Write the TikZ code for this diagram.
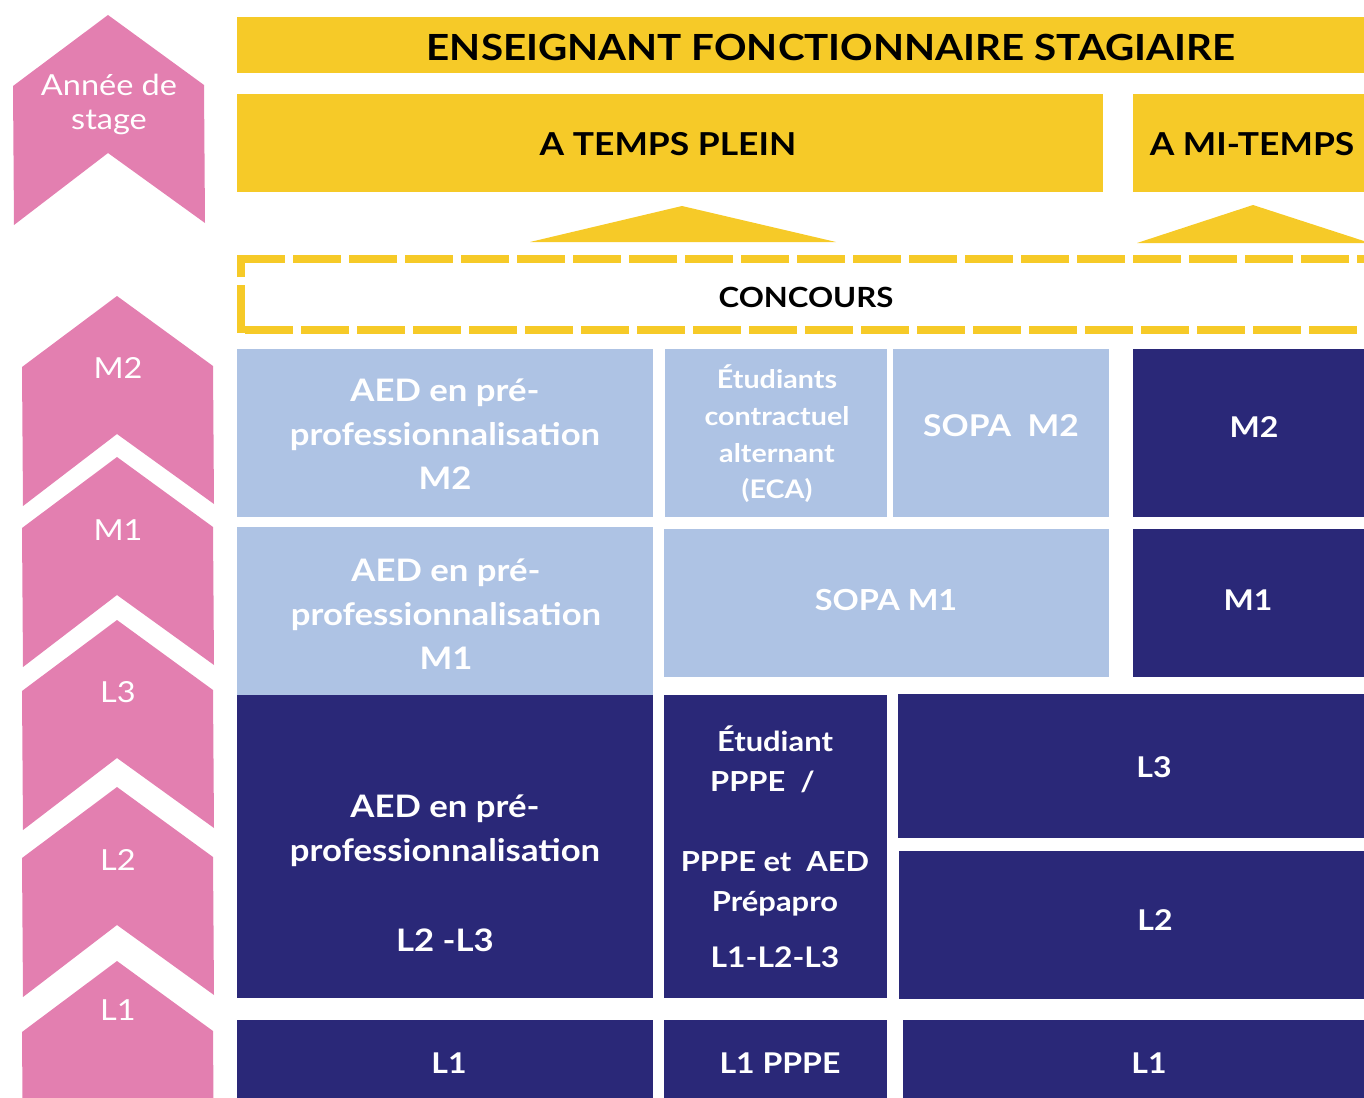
\documentclass[tikz,border=0pt]{standalone}
\usepackage{fontspec}
\setmainfont{Lato}[FakeStretch=1.12]
\definecolor{jaune}{RGB}{246,202,40}
\definecolor{bleuclair}{RGB}{174,195,228}
\definecolor{marine}{RGB}{42,40,120}
\definecolor{rose}{RGB}{227,127,176}
\begin{document}
\begin{tikzpicture}[x=0.5pt, y=-0.5pt,
    jbox/.style = {fill=jaune},
    cbox/.style = {fill=bleuclair},
    mbox/.style = {fill=marine},
    titre/.style = {font=\bfseries\fontsize{18}{22}\selectfont},
    soustitre/.style = {font=\bfseries\fontsize{15.8}{22}\selectfont},
    lab/.style = {text=white, font=\fontsize{14.5}{17}\selectfont, align=center},
    case/.style = {text=white, font=\bfseries\fontsize{15.5}{22}\selectfont, align=center},
    court/.style = {case, font=\bfseries\fontsize{14.3}{20}\selectfont}]
    \useasboundingbox (0,0) rectangle (1364,1097);
    \clip (0,0) rectangle (1364,1097);
    % chevrons
    \foreach \cx/\a/\n/\ty/\t in {108/15/stage/104/{Année de\\stage}, 117/296/m2/368/M2,
        117/457/m1/530/M1, 117/620/l3/692/L3, 117/787/l2/860/L2, 117/961/l1/1010/L1} {
        \fill[rose] (\cx,\a) -- (\cx+96,\a+70) -- (\cx+97,\a+208) -- (\cx,\a+138)
            -- (\cx-94,\a+210) -- (\cx-95,\a+71) -- cycle;
        \node[lab] (an-\n) at (\cx+1,\ty) {\t};
    }
    % yellow part
    \path[jbox] (237,17) rectangle (1364,73);
    \path[jbox] (237,94) rectangle (1103,192);
    \path[jbox] (1133,94) rectangle (1364,192);
    \node[titre] (titre) at (831,47) {ENSEIGNANT FONCTIONNAIRE STAGIAIRE};
    \node[soustitre] (plein) at (668,144) {A TEMPS PLEIN};
    \node[soustitre] (mi) at (1252,144) {A MI-TEMPS};
    \fill[jaune] (530,242) -- (682,206) -- (836,242) -- cycle;
    \fill[jaune] (1137,243) -- (1253,205) -- (1370,243) -- cycle;
    \draw[jaune, line width=4pt, dash pattern=on 24pt off 4pt] (237,258.5) -- (1400,258.5);
    \draw[jaune, line width=4pt, dash pattern=on 24pt off 4pt] (245,329.5) -- (1400,329.5);
    \draw[jaune, line width=4pt, dash pattern=on 24pt off 4pt] (241,333) -- (241,255);
    \node[font=\bfseries\fontsize{13.9}{17}\selectfont] (concours) at (806,297) {CONCOURS};
    % boxes
    \path[cbox] (237,349) rectangle (653,517);
    \path[cbox] (665,349) rectangle (887,517);
    \path[cbox] (893,349) rectangle (1109,517);
    \path[mbox] (1133,349) rectangle (1364,517);
    \path[cbox] (237,527) rectangle (653,695);
    \path[cbox] (664,529) rectangle (1109,677);
    \path[mbox] (1133,529) rectangle (1364,677);
    \path[mbox] (237,695) rectangle (653,998);
    \path[mbox] (664,695) rectangle (887,998);
    \path[mbox] (898,694) rectangle (1364,838);
    \path[mbox] (899,851) rectangle (1364,999);
    \path[mbox] (237,1020) rectangle (653,1100);
    \path[mbox] (664,1020) rectangle (887,1100);
    \path[mbox] (903,1020) rectangle (1364,1100);
    % texts
    \node[case] (aedm2) at (445,434) {AED en pré-\\professionnalisation\\M2};
    \node[case, font=\bfseries\fontsize{12.8}{18.3}\selectfont] (eca) at (777,434)
        {Étudiants\\contractuel\\alternant\\(ECA)};
    \node[case, font=\bfseries\fontsize{15}{22}\selectfont] (sopam2) at (1001,426) {SOPA~~M2};
    \node[court] (m2) at (1254,427) {M2};
    \node[case] (aedm1) at (446,614) {AED en pré-\\professionnalisation\\M1};
    \node[case, font=\bfseries\fontsize{14.5}{22}\selectfont] (sopam1) at (886,600) {SOPA M1};
    \node[court] (m1) at (1248,600) {M1};
    \node[case] (aedl) at (445,873) {AED en pré-\\professionnalisation\\[23pt]L2 -L3};
    \node[case, font=\bfseries\fontsize{13.8}{20}\selectfont] (pppe) at (775,847)
        {Étudiant\\PPPE~~/\rule{12.5pt}{0pt}\\[20pt]PPPE et~~AED\\Prépapro\\[8pt]{\fontsize{14.2}{20}\selectfont L1-L2-L3}};
    \node[court] (l3) at (1154,767) {L3};
    \node[court] (l2) at (1155,920) {L2};
    \node[court] (l1a) at (449,1063) {L1};
    \node[court] (l1b) at (780,1063) {L1 PPPE};
    \node[court] (l1c) at (1149,1063) {L1};
\end{tikzpicture}
\end{document}
